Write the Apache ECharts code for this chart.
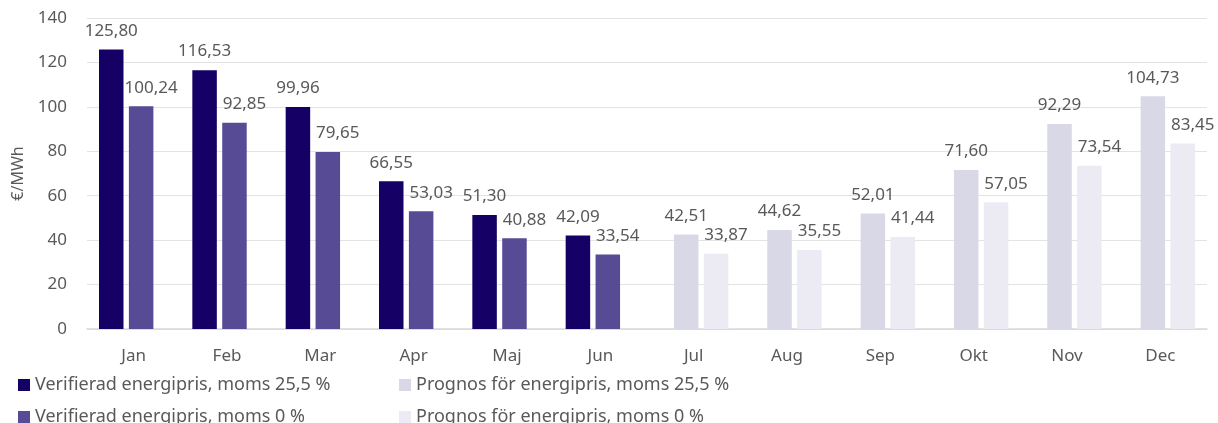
<!DOCTYPE html>
<html>
<head>
<meta charset="utf-8">
<script src="https://cdn.jsdelivr.net/npm/echarts@6/dist/echarts.min.js"></script>
<style>
  html, body { margin: 0; padding: 0; background: #fff; }
  #chart { width: 1218px; height: 423px; }
</style>
</head>
<body>
<div id="chart"></div>
<script>
const months = ['Jan', 'Feb', 'Mar', 'Apr', 'Maj', 'Jun', 'Jul', 'Aug', 'Sep', 'Okt', 'Nov', 'Dec'];
const verifiedVat = [125.80, 116.53, 99.96, 66.55, 51.30, 42.09, null, null, null, null, null, null];
const verifiedNoVat = [100.24, 92.85, 79.65, 53.03, 40.88, 33.54, null, null, null, null, null, null];
const forecastVat = [null, null, null, null, null, null, 42.51, 44.62, 52.01, 71.60, 92.29, 104.73];
const forecastNoVat = [null, null, null, null, null, null, 33.87, 35.55, 41.44, 57.05, 73.54, 83.45];
const yTicks = [0, 20, 40, 60, 80, 100, 120, 140];

const names = {
  v25: 'Verifierad energipris, moms 25,5 %',
  v0: 'Verifierad energipris, moms 0 %',
  p25: 'Prognos för energipris, moms 25,5 %',
  p0: 'Prognos för energipris, moms 0 %',
};

const font = 'Noto Sans';
const textGray = '#595959';

// bar label like excel, with decimal comma
function makeLabel(dx) {
  return {
    show: true,
    position: 'top',
    distance: 10,
    offset: [dx, 0],
    color: textGray,
    fontFamily: font,
    fontSize: 17,
    formatter: (p) => p.value.toFixed(2).replace('.', ','),
  };
}

function barSeries(name, data, color, dx) {
  return {
    name: name,
    type: 'bar',
    data: data,
    barWidth: 24.5,
    barGap: '-39%',
    itemStyle: { color: color },
    label: makeLabel(dx),
    emphasis: { disabled: true },
  };
}

// one legend per entry, placed like the 2x2 grid in the original
function legendAt(name, left, top) {
  return {
    data: [name],
    left: left,
    top: top,
    itemWidth: 12,
    itemHeight: 12,
    icon: 'rect',
    textStyle: { color: textGray, fontFamily: font, fontSize: 18 },
    selectedMode: false,
  };
}

const chart = echarts.init(document.getElementById('chart'));
chart.setOption({
  animation: false,
  textStyle: { fontFamily: font },
  grid: { left: 87, right: 11, top: 18, bottom: 94 },
  legend: [
    legendAt(names.v25, 13, 371),
    legendAt(names.v0, 13, 403),
    legendAt(names.p25, 394, 371),
    legendAt(names.p0, 394, 403),
  ],
  xAxis: {
    type: 'category',
    data: months,
    axisLine: { lineStyle: { color: '#d9d9d9', width: 1.5 } },
    axisTick: { show: false },
    axisLabel: { color: textGray, fontFamily: font, fontSize: 17, margin: 19 },
  },
  yAxis: {
    type: 'value',
    min: yTicks[0],
    max: yTicks[yTicks.length - 1],
    interval: 20,
    name: '€/MWh',
    nameLocation: 'middle',
    nameGap: 60,
    nameTextStyle: { color: textGray, fontFamily: font, fontSize: 16 },
    axisLabel: { color: textGray, fontFamily: font, fontSize: 17, margin: 20 },
    splitLine: { lineStyle: { color: '#e3e3e3', width: 1 } },
  },
  series: [
    barSeries(names.v25, verifiedVat, '#150066', 0),
    barSeries(names.p25, forecastVat, '#d9d8e6', 0),
    barSeries(names.v0, verifiedNoVat, '#574b96', 10),
    barSeries(names.p0, forecastNoVat, '#ecebf3', 10),
  ],
});
</script>
</body>
</html>
